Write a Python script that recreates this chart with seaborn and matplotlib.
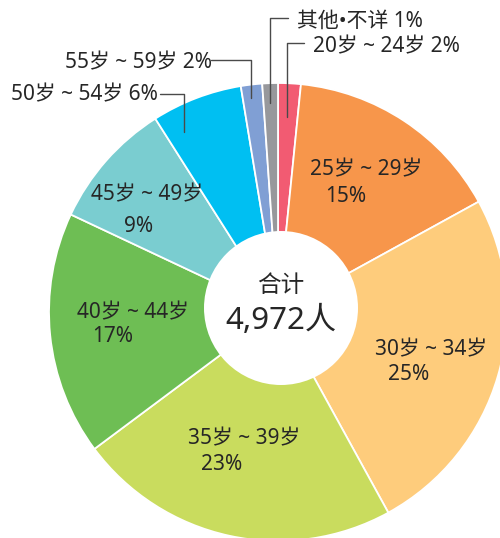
import matplotlib
matplotlib.use("Agg")
import matplotlib.pyplot as plt
import seaborn as sns
from matplotlib.patches import Circle

W, H = 500, 538

# shares (%), clockwise from 12 o'clock
groups = ["20岁 ~ 24岁", "25岁 ~ 29岁", "30岁 ~ 34岁", "35岁 ~ 39岁", "40岁 ~ 44岁",
          "45岁 ~ 49岁", "50岁 ~ 54岁", "55岁 ~ 59岁", "其他•不详"]
shares = [1.6, 15.4, 25.0, 22.8, 17.2, 9.0, 6.4, 1.5, 1.1]
total = "4,972人"
colors = ["#F25B72", "#F7964B", "#FECC7C", "#C9DC5E", "#6EBE54",
          "#7ACDD0", "#00BFF2", "#809FD4", "#97989C"]

# label layout in pixel coords (x, y of line 1 / line 2 centres)
inside_pos = {
    1: ((366, 170), (346, 196)),
    2: ((431, 350), (409, 375)),
    3: ((244, 439), (222, 465)),
    4: ((133, 313), (113, 337)),
    5: ((147, 195), (139, 227)),
}
# outside labels: text anchor, ha, leader polyline
outside = {
    8: ((297, 21), "left", [(270, 103), (270, 18), (288, 18)]),
    0: ((313, 47), "left", [(287, 117), (287, 43), (304, 43)]),
    7: ((212, 63), "right", [(211, 60), (251, 60), (251, 98)]),
    6: ((158, 95), "right", [(160, 94), (184, 94), (184, 132)]),
}

sns.set_theme(style="white")
plt.rcParams["font.family"] = ["Noto Sans", "Noto Sans CJK SC", "DejaVu Sans"]
TXT = "#262626"
FS = 15


def px(x, y):
    return x, H - y


fig = plt.figure(figsize=(W / 100, H / 100), dpi=100)
ax = fig.add_axes([0, 0, 1, 1])
ax.set_xlim(0, W)
ax.set_ylim(0, H)
ax.set_aspect("equal")
ax.axis("off")

palette = sns.color_palette(colors)
ax.pie(shares, colors=palette, startangle=90, counterclock=False,
       center=px(278, 312), radius=229,
       wedgeprops=dict(edgecolor="white", linewidth=1.3))
ax.set_xlim(0, W)
ax.set_ylim(0, H)

ax.add_patch(Circle(px(281, 308), 77, facecolor="white", edgecolor="none", zorder=5))
ax.text(*px(281, 286), "合计", ha="center", va="center", fontsize=17, color=TXT, zorder=6)
ax.text(*px(281, 321), total, ha="center", va="center", fontsize=22.5, color=TXT, zorder=6)

pct = [f"{int(v + 0.5)}%" for v in shares]

for i, (p1, p2) in inside_pos.items():
    ax.text(*px(*p1), groups[i], ha="center", va="center", fontsize=FS, color=TXT)
    ax.text(*px(*p2), pct[i], ha="center", va="center", fontsize=FS, color=TXT)

for i, (pos, ha, path) in outside.items():
    ax.text(*px(*pos), f"{groups[i]} {pct[i]}", ha=ha, va="center",
            fontsize=FS, color=TXT)
    xs = [p[0] for p in path]
    ys = [H - p[1] for p in path]
    ax.plot(xs, ys, color="#4A4A4A", linewidth=1.0, zorder=7)

fig.savefig("out.png", dpi=100)
